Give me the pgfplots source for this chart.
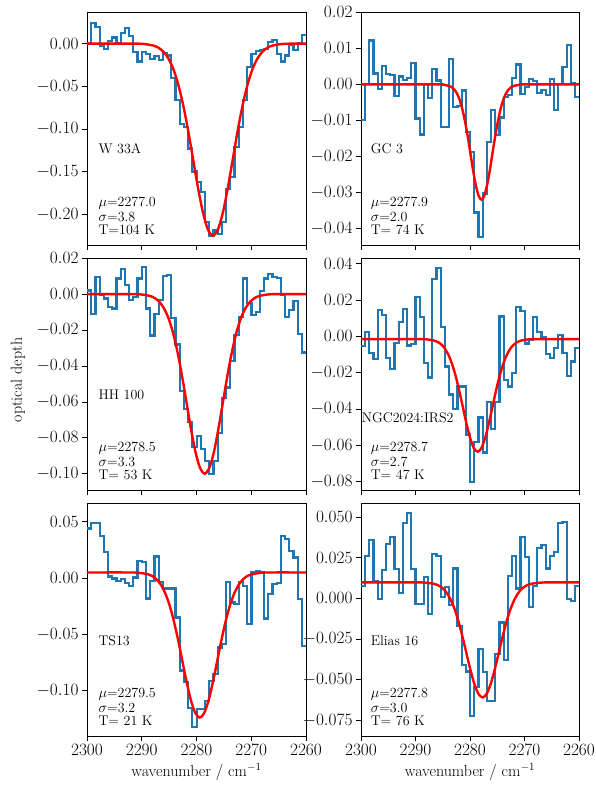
\documentclass[border=0pt]{standalone}
\usepackage{pgfplots}
\pgfplotsset{compat=1.18}
\usepackage{pgfplotstable}
\definecolor{mplblue}{HTML}{1F77B4}
\pgfplotstableread{
x w33a gc3 hh ngc ts elias
2300.00 0.000 -0.0100 0.0020 -0.0055 0.0440 0.0078
2299.23 0.024 0.0000 -0.0110 0.0024 0.0490 0.0258
2298.46 0.019 0.0122 0.0096 -0.0092 0.0490 0.0359
2297.69 -0.003 0.0030 -0.0005 -0.0123 0.0376 0.0109
2296.92 -0.006 -0.0012 -0.0024 0.0147 0.0228 -0.0004
2296.15 0.003 0.0050 -0.0070 0.0120 0.0015 0.0176
2295.38 0.007 0.0028 -0.0080 -0.0120 -0.0003 0.0334
2294.61 0.000 0.0025 0.0087 -0.0178 -0.0024 0.0379
2293.84 0.012 -0.0033 0.0140 -0.0037 -0.0009 0.0180
2293.07 0.018 0.0022 0.0050 0.0079 -0.0044 0.0033
2292.30 0.009 0.0013 -0.0033 0.0150 -0.0068 0.0463
2291.53 -0.010 0.0018 -0.0015 -0.0050 0.0006 0.0525
2290.76 -0.021 0.0060 0.0087 -0.0042 0.0154 0.0180
2289.99 -0.010 -0.0095 0.0150 0.0215 0.0145 -0.0035
2289.22 -0.012 -0.0139 -0.0080 0.0105 -0.0180 -0.0035
2288.45 -0.018 0.0000 -0.0230 -0.0147 -0.0024 0.0129
2287.68 -0.015 -0.0037 -0.0110 -0.0226 0.0192 -0.0096
2286.91 -0.019 0.0042 -0.0033 0.0316 -0.0033 0.0273
2286.14 -0.011 0.0011 0.0100 0.0377 -0.0092 0.0262
2285.37 -0.014 -0.0119 0.0106 0.0050 -0.0092 0.0006
2284.60 -0.040 -0.0119 -0.0135 -0.0166 -0.0092 0.0072
2283.83 -0.066 0.0071 -0.0280 -0.0320 -0.0350 -0.0039
2283.06 -0.094 -0.0063 -0.0540 -0.0400 -0.0820 0.0184
2282.29 -0.098 -0.0060 -0.0640 -0.0276 -0.0920 -0.0168
2281.52 -0.123 -0.0017 -0.0710 -0.0276 -0.1150 -0.0410
2280.75 -0.150 -0.0132 -0.0850 -0.0540 -0.1320 -0.0450
2279.98 -0.162 -0.0187 -0.0790 -0.0800 -0.1160 -0.0725
2279.21 -0.174 -0.0356 -0.0860 -0.0580 -0.1160 -0.0547
2278.44 -0.209 -0.0423 -0.0930 -0.0447 -0.1090 -0.0310
2277.67 -0.225 -0.0303 -0.1000 -0.0640 -0.0910 -0.0455
2276.90 -0.219 -0.0160 -0.0930 -0.0360 -0.0850 -0.0630
2276.13 -0.223 -0.0072 -0.0775 -0.0510 -0.0615 -0.0630
2275.36 -0.209 -0.0141 -0.0580 -0.0360 -0.0586 -0.0340
2274.59 -0.170 -0.0092 -0.0520 0.0110 -0.0038 -0.0148
2273.82 -0.156 -0.0035 -0.0370 -0.0240 -0.0216 -0.0377
2273.05 -0.121 -0.0030 -0.0228 -0.0276 -0.0230 0.0139
2272.28 -0.098 0.0018 -0.0126 -0.0200 -0.0033 0.0262
2271.51 -0.066 0.0055 0.0087 0.0160 -0.0068 0.0061
2270.74 -0.027 -0.0026 -0.0050 0.0138 -0.0410 0.0375
2269.97 -0.012 -0.0007 -0.0117 -0.0039 0.0056 0.0252
2269.20 -0.009 0.0015 -0.0098 -0.0018 0.0065 -0.0055
2268.43 -0.008 0.0009 0.0016 0.0105 0.0050 0.0074
2267.66 -0.006 -0.0024 0.0087 0.0024 -0.0358 0.0307
2266.89 0.002 -0.0015 0.0110 -0.0006 -0.0142 0.0328
2266.12 0.004 -0.0029 0.0096 -0.0098 -0.0053 0.0184
2265.35 -0.012 0.0015 0.0090 -0.0120 -0.0044 0.0262
2264.58 -0.021 -0.0072 -0.0006 -0.0064 0.0376 0.0287
2263.81 -0.014 0.0000 -0.0126 0.0006 0.0350 0.0461
2263.04 -0.002 0.0048 -0.0090 -0.0092 0.0243 0.0467
2262.27 -0.008 0.0110 -0.0040 -0.0220 0.0183 -0.0004
2261.50 0.000 0.0004 -0.0220 -0.0138 -0.0186 -0.0014
2260.73 0.010 -0.0035 -0.0325 -0.0064 -0.0600 0.0074
2259.96 0.010 -0.0035 -0.0325 -0.0064 -0.0600 0.0074
}\spec
\pgfplotsset{
  panel/.style={scale only axis, width=219pt, height=233pt,
    xmin=2260, xmax=2300, x dir=reverse,
    xtick={2260,2270,2280,2290,2300},
    tick align=outside, xtick pos=left, ytick pos=left,
    major tick length=5pt,
    tick style={black, line width=0.8pt},
    axis line style={black, line width=0.8pt},
    tick label style={font=\fontsize{16}{19}\selectfont},
    scaled y ticks=false,
    x tick label style={/pgf/number format/1000 sep={}},
    y tick label style={/pgf/number format/.cd, fixed, fixed zerofill, precision=2},
  },
  notick/.style={xticklabels={}},
  xl/.style={xlabel={wavenumber / cm$^{-1}$},
    xlabel style={font=\fontsize{16}{19}\selectfont, at={(axis description cs:0.5,0)}, anchor=base, yshift=-41pt}},
  hist/.style={const plot mark left, color=mplblue, line width=2.2pt, no marks},
  fit/.style={smooth, color=red, line width=2.4pt, no marks},
}
\tikzset{
  nm/.style={anchor=west, inner sep=0pt, font=\fontsize{14}{16}\selectfont},
  pm/.style={anchor=base west, inner sep=0pt, font=\fontsize{14}{16}\selectfont},
}
\begin{document}
\begin{tikzpicture}
\useasboundingbox (0,0) rectangle (596pt,786pt);
\node[rotate=90, font=\fontsize{16}{19}\selectfont] at (18pt,406pt) {optical depth};
% W 33A
\begin{axis}[panel, notick, at={(87pt,541pt)}, anchor=south west,
  ymin=-0.236, ymax=0.037, ytick={-0.20,-0.15,-0.10,-0.05,0.00}]
\addplot[hist] table[x=x, y=w33a] {\spec};
\addplot[fit] coordinates {(2260,0) (2262.6,-0.0001) (2264.4,-0.0005) (2266.2,-0.0025) (2267.1,-0.0051) (2268.0,-0.0099) (2268.9,-0.0179) (2269.8,-0.0304) (2270.7,-0.0487) (2271.6,-0.0731) (2272.5,-0.1030) (2273.4,-0.1365) (2274.3,-0.1698) (2275.2,-0.1986) (2276.1,-0.2181) (2277.0,-0.225) (2277.9,-0.2181) (2278.8,-0.1986) (2279.7,-0.1698) (2280.6,-0.1365) (2281.5,-0.1030) (2282.4,-0.0731) (2283.3,-0.0487) (2284.2,-0.0304) (2285.1,-0.0179) (2286.0,-0.0099) (2286.9,-0.0051) (2287.8,-0.0025) (2289.6,-0.0005) (2291.4,-0.0001) (2300,0)};
\node[nm] at (rel axis cs:0.052,0.415) {W 33A};
\node[pm, yshift=38.5pt] at (rel axis cs:0.052,0) {$\mu$=2277.0};
\node[pm, yshift=23.8pt] at (rel axis cs:0.052,0) {$\sigma$=3.8};
\node[pm, yshift=10.2pt] at (rel axis cs:0.052,0) {T=104 K};
\end{axis}
% GC 3
\begin{axis}[panel, notick, width=218pt, at={(361pt,541pt)}, anchor=south west,
  ymin=-0.0446, ymax=0.0201, ytick={-0.04,-0.03,-0.02,-0.01,0.00,0.01,0.02}]
\addplot[hist] table[x=x, y=gc3] {\spec};
\addplot[fit] coordinates {(2260,0) (2269.9,0) (2270.9,-0.0001) (2271.9,-0.0004) (2272.4,-0.0007) (2272.9,-0.0014) (2273.4,-0.0025) (2273.9,-0.0043) (2274.4,-0.0069) (2274.9,-0.0104) (2275.4,-0.0146) (2275.9,-0.0194) (2276.4,-0.0242) (2276.9,-0.0282) (2277.4,-0.0310) (2277.9,-0.032) (2278.4,-0.0310) (2278.9,-0.0282) (2279.4,-0.0242) (2279.9,-0.0194) (2280.4,-0.0146) (2280.9,-0.0104) (2281.4,-0.0069) (2281.9,-0.0043) (2282.4,-0.0025) (2282.9,-0.0014) (2283.4,-0.0007) (2283.9,-0.0004) (2284.9,-0.0001) (2285.9,0) (2300,0)};
\node[nm] at (rel axis cs:0.044,0.415) {GC 3};
\node[pm, yshift=38.5pt] at (rel axis cs:0.044,0) {$\mu$=2277.9};
\node[pm, yshift=23.8pt] at (rel axis cs:0.044,0) {$\sigma$=2.0};
\node[pm, yshift=10.2pt] at (rel axis cs:0.044,0) {T= 74 K};
\end{axis}
% HH 100
\begin{axis}[panel, notick, height=232pt, at={(87pt,296pt)}, anchor=south west,
  ymin=-0.109, ymax=0.0201, ytick={-0.10,-0.08,-0.06,-0.04,-0.02,0.00,0.02}]
\addplot[hist] table[x=x, y=hh] {\spec};
\addplot[fit] coordinates {(2260,0) (2265.3,0) (2266.95,-0.0002) (2268.6,-0.0011) (2269.43,-0.0023) (2270.25,-0.0044) (2271.08,-0.0080) (2271.9,-0.0135) (2272.73,-0.0216) (2273.55,-0.0325) (2274.38,-0.0458) (2275.2,-0.0607) (2276.03,-0.0755) (2276.85,-0.0883) (2277.68,-0.0969) (2278.5,-0.100) (2279.33,-0.0969) (2280.15,-0.0883) (2280.98,-0.0755) (2281.8,-0.0607) (2282.63,-0.0458) (2283.45,-0.0325) (2284.28,-0.0216) (2285.1,-0.0135) (2285.93,-0.0080) (2286.75,-0.0044) (2287.58,-0.0023) (2288.4,-0.0011) (2290.05,-0.0002) (2291.7,0) (2300,0)};
\node[nm] at (rel axis cs:0.052,0.41) {HH 100};
\node[pm, yshift=38.5pt] at (rel axis cs:0.052,0) {$\mu$=2278.5};
\node[pm, yshift=23.8pt] at (rel axis cs:0.052,0) {$\sigma$=3.3};
\node[pm, yshift=10.2pt] at (rel axis cs:0.052,0) {T= 53 K};
\end{axis}
% NGC2024:IRS2
\begin{axis}[panel, notick, width=218pt, height=232pt, at={(361pt,296pt)}, anchor=south west,
  ymin=-0.0846, ymax=0.0432, ytick={-0.08,-0.06,-0.04,-0.02,0.00,0.02,0.04}]
\addplot[hist] table[x=x, y=ngc] {\spec};
\addplot[fit] coordinates {(2260,-0.0015) (2267.8,-0.0015) (2269.15,-0.0016) (2270.5,-0.0022) (2271.18,-0.0029) (2271.85,-0.0042) (2272.53,-0.0064) (2273.2,-0.0099) (2273.88,-0.0149) (2274.55,-0.0216) (2275.23,-0.0299) (2275.9,-0.0391) (2276.58,-0.0483) (2277.25,-0.0562) (2277.93,-0.0616) (2278.6,-0.0635) (2279.28,-0.0616) (2279.95,-0.0562) (2280.63,-0.0483) (2281.3,-0.0391) (2281.98,-0.0299) (2282.65,-0.0216) (2283.33,-0.0149) (2284.0,-0.0099) (2284.68,-0.0064) (2285.35,-0.0042) (2286.03,-0.0029) (2286.7,-0.0022) (2288.05,-0.0016) (2289.4,-0.0015) (2300,-0.0015)};
\node[nm] at (rel axis cs:0.003,0.312) {NGC2024:IRS2};
\node[pm, yshift=38.5pt] at (rel axis cs:0.044,0) {$\mu$=2278.7};
\node[pm, yshift=23.8pt] at (rel axis cs:0.044,0) {$\sigma$=2.7};
\node[pm, yshift=10.2pt] at (rel axis cs:0.044,0) {T= 47 K};
\end{axis}
% TS13
\begin{axis}[panel, xl, at={(87pt,50pt)}, anchor=south west,
  ymin=-0.140, ymax=0.0666, ytick={-0.10,-0.05,0.00,0.05}]
\addplot[hist] table[x=x, y=ts] {\spec};
\addplot[fit] coordinates {(2260,0.005) (2266.6,0.0050) (2268.2,0.0047) (2269.8,0.0036) (2270.6,0.0021) (2271.4,-0.0006) (2272.2,-0.0052) (2273.0,-0.0124) (2273.8,-0.0228) (2274.6,-0.0368) (2275.4,-0.0539) (2276.2,-0.0731) (2277.0,-0.0921) (2277.8,-0.1086) (2278.6,-0.1197) (2279.4,-0.1237) (2280.2,-0.1197) (2281.0,-0.1086) (2281.8,-0.0921) (2282.6,-0.0731) (2283.4,-0.0539) (2284.2,-0.0368) (2285.0,-0.0228) (2285.8,-0.0124) (2286.6,-0.0052) (2287.4,-0.0006) (2288.2,0.0021) (2289.0,0.0036) (2290.6,0.0047) (2292.2,0.0050) (2300,0.005)};
\node[nm] at (rel axis cs:0.052,0.41) {TS13};
\node[pm, yshift=38.5pt] at (rel axis cs:0.052,0) {$\mu$=2279.5};
\node[pm, yshift=23.8pt] at (rel axis cs:0.052,0) {$\sigma$=3.2};
\node[pm, yshift=10.2pt] at (rel axis cs:0.052,0) {T= 21 K};
\end{axis}
% Elias 16
\begin{axis}[panel, xl, width=218pt, at={(361pt,50pt)}, anchor=south west,
  ymin=-0.0846, ymax=0.0586, ytick={-0.075,-0.050,-0.025,0.000,0.025,0.050},
  y tick label style={/pgf/number format/.cd, fixed, fixed zerofill, precision=3}]
\addplot[hist] table[x=x, y=elias] {\spec};
\addplot[fit] coordinates {(2260,0.0098) (2265.7,0.0098) (2267.2,0.0096) (2268.7,0.0090) (2269.45,0.0082) (2270.2,0.0067) (2270.95,0.0042) (2271.7,0.0002) (2272.45,-0.0055) (2273.2,-0.0132) (2273.95,-0.0226) (2274.7,-0.0331) (2275.45,-0.0436) (2276.2,-0.0526) (2276.95,-0.0587) (2277.7,-0.0609) (2278.45,-0.0587) (2279.2,-0.0526) (2279.95,-0.0436) (2280.7,-0.0331) (2281.45,-0.0226) (2282.2,-0.0132) (2282.95,-0.0055) (2283.7,0.0002) (2284.45,0.0042) (2285.2,0.0067) (2285.95,0.0082) (2286.7,0.0090) (2288.2,0.0096) (2289.7,0.0098) (2300,0.0098)};
\node[nm] at (rel axis cs:0.044,0.41) {Elias 16};
\node[pm, yshift=38.5pt] at (rel axis cs:0.044,0) {$\mu$=2277.8};
\node[pm, yshift=23.8pt] at (rel axis cs:0.044,0) {$\sigma$=3.0};
\node[pm, yshift=10.2pt] at (rel axis cs:0.044,0) {T= 76 K};
\end{axis}
\end{tikzpicture}
\end{document}
